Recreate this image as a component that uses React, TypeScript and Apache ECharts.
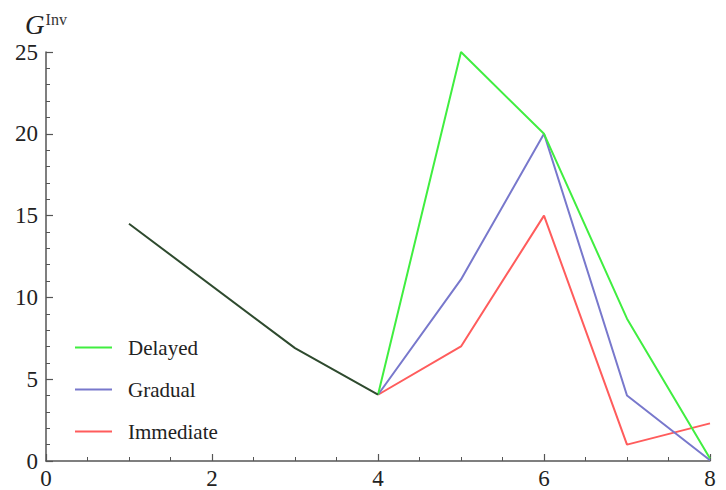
import React, { useEffect, useRef } from "react";
import * as echarts from "echarts";

const sharedPath: [number, number][] = [
  [1, 14.5],
  [3, 6.9],
  [4, 4.05],
];
const delayed: [number, number][] = [
  [4, 4.05],
  [5, 25],
  [6, 20],
  [7, 8.7],
  [8, 0.15],
];
const gradual: [number, number][] = [
  [4, 4.05],
  [5, 11.1],
  [6, 20],
  [7, 4.0],
  [8, 0.05],
];
const immediate: [number, number][] = [
  [4, 4.05],
  [5, 7.0],
  [6, 15.0],
  [7, 1.0],
  [8, 2.3],
];
const seriesNames = ["Delayed", "Gradual", "Immediate"];
const seriesColors = ["#40ee40", "#7878cc", "#ff5c5c"];

const FONT = "'Liberation Serif', 'Times New Roman', serif";

export default function App() {
  const ref = useRef<HTMLDivElement>(null);
  useEffect(() => {
    if (!ref.current) return;
    const chart = echarts.init(ref.current, undefined, { renderer: "svg" });
    const axisCommon = {
      axisLine: { show: true, onZero: false, lineStyle: { color: "#555", width: 1.5 } },
      axisTick: { show: true, inside: true, length: 7, lineStyle: { color: "#555", width: 1.2 } },
      minorTick: { show: true, length: 4, lineStyle: { color: "#555", width: 1 } },
      splitLine: { show: false },
      axisLabel: { color: "#222", fontFamily: FONT, fontSize: 23 },
    };
    const dataSets = [delayed, gradual, immediate];
    chart.setOption({
      animation: false,
      backgroundColor: "#fff",
      grid: { left: 46, right: 16, top: 52, bottom: 29, containLabel: false },
      legend: {
        data: seriesNames,
        orient: "vertical",
        left: 70,
        top: 332,
        icon: "rect",
        itemWidth: 37,
        itemHeight: 2,
        itemGap: 21,
        textStyle: { fontFamily: FONT, fontSize: 21, color: "#222", padding: [0, 0, 0, 11] },
      },
      xAxis: {
        type: "value",
        min: 0,
        max: 8,
        interval: 2,
        ...axisCommon,
        minorTick: { ...axisCommon.minorTick, splitNumber: 4 },
        axisLabel: { ...axisCommon.axisLabel, margin: 6 },
      },
      yAxis: {
        type: "value",
        min: 0,
        max: 25,
        interval: 5,
        ...axisCommon,
        minorTick: { ...axisCommon.minorTick, splitNumber: 5 },
        axisLabel: { ...axisCommon.axisLabel, margin: 8 },
        name: "{g|G}{s|Inv}",
        nameLocation: "end",
        nameGap: 14,
        nameTextStyle: {
          align: "center",
          rich: {
            g: { fontFamily: FONT, fontStyle: "italic", fontSize: 27, color: "#222", verticalAlign: "bottom" },
            s: { fontFamily: FONT, fontSize: 16, color: "#333", verticalAlign: "top", padding: [0, 0, 0, 1] },
          },
        },
      },
      series: [
        {
          name: "shared",
          type: "line",
          data: sharedPath,
          symbol: "none",
          lineStyle: { color: "#2e4a2e", width: 2 },
          itemStyle: { color: "#2e4a2e" },
          z: 5,
        },
        ...dataSets.map((d, i) => ({
          name: seriesNames[i],
          type: "line",
          data: d,
          symbol: "none",
          lineStyle: { color: seriesColors[i], width: 2 },
          itemStyle: { color: seriesColors[i] },
          z: 3 - i,
        })),
      ],
    });
    return () => chart.dispose();
  }, []);
  return <div ref={ref} style={{ width: 726, height: 490, position: "absolute", left: 0, top: 0 }} />;
}
